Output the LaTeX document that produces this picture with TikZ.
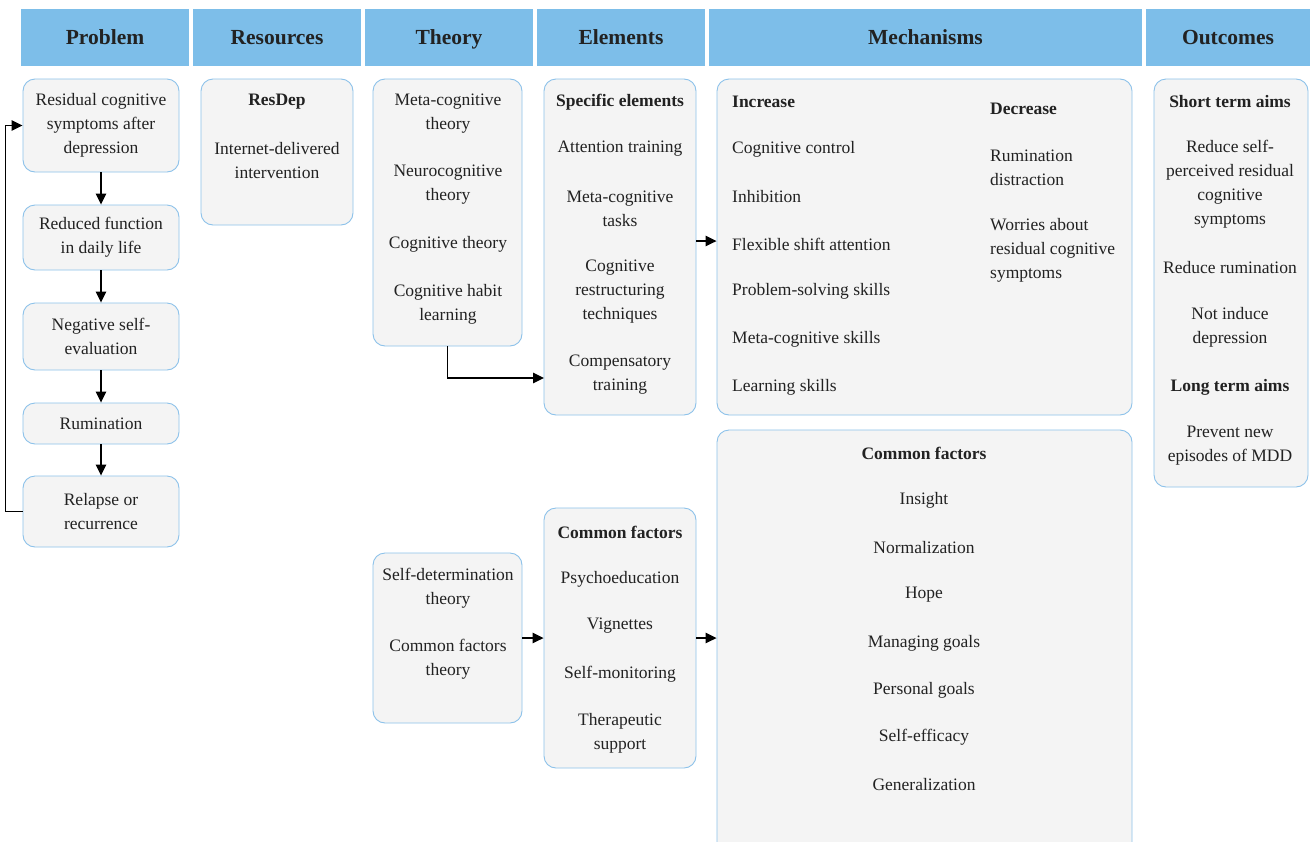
\documentclass[tikz,border=0pt]{standalone}
\usepackage{fontspec}
\setmainfont{Liberation Serif}
\usetikzlibrary{arrows.meta}
\definecolor{hdr}{HTML}{7DBEE9}
\definecolor{boxfill}{HTML}{F4F4F4}
\definecolor{boxline}{HTML}{8DC2EA}
\definecolor{ink}{HTML}{222222}

\begin{document}
\begin{tikzpicture}[x=1pt,y=-1pt,
  hdrbox/.style={fill=hdr, draw=none, minimum height=57pt, inner sep=0pt,
    text height=15pt, text depth=1.5pt,
    font=\fontsize{21.5}{26}\selectfont\bfseries, text=ink},
  panel/.style={draw=boxline, line width=0.9pt, fill=boxfill, rounded corners=12pt,
    inner sep=0pt, font=\fontsize{17.5}{24}\selectfont, text=ink, align=center},
  txt/.style={font=\fontsize{17.5}{24}\selectfont, text=ink, align=center, inner sep=0pt, yshift=-2pt},
  ttl/.style={txt, font=\fontsize{17.5}{24}\selectfont\bfseries},
  ltxt/.style={txt, anchor=west, align=left},
  lttl/.style={ttl, anchor=west, align=left},
  link/.style={-{Triangle[length=11pt,width=10.5pt]}, line width=1.4pt, black}]

\useasboundingbox (0,0) rectangle (1312,841);
\clip (0,0) rectangle (1312,841);
\fill[white] (0,0) rectangle (1312,841);

% column headers
\node[hdrbox, minimum width=168pt] (hProblem)   at (105,37.5)   {Problem};
\node[hdrbox, minimum width=168pt] (hResources) at (277,37.5)   {Resources};
\node[hdrbox, minimum width=168pt] (hTheory)    at (449,37.5)   {Theory};
\node[hdrbox, minimum width=168pt] (hElements)  at (621,37.5)   {Elements};
\node[hdrbox, minimum width=433pt] (hMech)      at (925.5,37.5) {Mechanisms};
\node[hdrbox, minimum width=164pt] (hOutcomes)  at (1228,37.5)  {Outcomes};

% problem chain
\node[panel, minimum width=156pt, minimum height=93pt] (p1) at (101,125.5) {Residual cognitive\\symptoms after\\depression};
\node[panel, minimum width=156pt, minimum height=65pt] (p2) at (101,237.5) {Reduced function\\in daily life};
\node[panel, minimum width=156pt, minimum height=67pt] (p3) at (101,336.5) {Negative self-\\evaluation};
\node[panel, minimum width=156pt, minimum height=41pt] (p4) at (101,423.5) {Rumination};
\node[panel, minimum width=156pt, minimum height=71pt] (p5) at (101,511.5) {Relapse or\\recurrence};

\draw[link] (p1) -- (p2);
\draw[link] (p2) -- (p3);
\draw[link] (p3) -- (p4);
\draw[link] (p4) -- (p5);
\draw[link] (p5.west) -- ++(-17,0) |- (p1.west);

% resources
\node[panel, minimum width=152pt, minimum height=146pt] (res) at (277,152) {};
\node[ttl] (resT) at (277,100) {ResDep};
\node[txt] (resA) at (277,159) {Internet-delivered\\intervention};

% theory
\node[panel, minimum width=149pt, minimum height=267pt] (thTop) at (447.5,212.5) {};
\node[txt] (th1) at (448,112) {Meta-cognitive\\theory};
\node[txt] (th2) at (448,183) {Neurocognitive\\theory};
\node[txt] (th3) at (448,242) {Cognitive theory};
\node[txt] (th4) at (448,302) {Cognitive habit\\learning};

\node[panel, minimum width=149pt, minimum height=170pt] (thBot) at (447.5,638) {};
\node[txt] (th5) at (448,586) {Self-determination\\theory};
\node[txt] (th6) at (448,657.5) {Common factors\\theory};

% elements
\node[panel, minimum width=152pt, minimum height=336pt] (elTop) at (620,247) {};
\node[ttl] (elT) at (620,100) {Specific elements};
\node[txt] (el1) at (620,147) {Attention training};
\node[txt] (el2) at (620,206.5) {Meta-cognitive\\tasks};
\node[txt] (el3) at (620,290) {Cognitive\\restructuring\\techniques};
\node[txt] (el4) at (620,372.5) {Compensatory\\training};

\node[panel, minimum width=152pt, minimum height=260pt] (elBot) at (620,638) {};
\node[ttl] (elT2) at (620,530) {Common factors};
\node[txt] (el5) at (620,577) {Psychoeducation};
\node[txt] (el6) at (620,624) {Vignettes};
\node[txt] (el7) at (620,672) {Self-monitoring};
\node[txt] (el8) at (620,731) {Therapeutic\\support};

% mechanisms
\node[panel, minimum width=415pt, minimum height=336pt] (mTop) at (924.5,247) {};
\node[lttl] (mInc) at (732,100) {Increase};
\node[ltxt] (m1) at (732,147) {Cognitive control};
\node[ltxt] (m2) at (732,195) {Inhibition};
\node[ltxt] (m3) at (732,242) {Flexible shift attention};
\node[ltxt] (m4) at (732,289) {Problem-solving skills};
\node[ltxt] (m5) at (732,337) {Meta-cognitive skills};
\node[ltxt] (m6) at (732,385) {Learning skills};
\node[lttl] (mDec) at (990,107) {Decrease};
\node[ltxt] (m7) at (990,165.5) {Rumination\\distraction};
\node[ltxt] (m8) at (990,248) {Worries about\\residual cognitive\\symptoms};

\node[panel, minimum width=415pt, minimum height=430pt] (mBot) at (924.5,645) {};
\node[ttl] (mCF) at (924,451) {Common factors};
\node[txt] (c1) at (924,498) {Insight};
\node[txt] (c2) at (924,546) {Normalization};
\node[txt] (c3) at (924,593) {Hope};
\node[txt] (c4) at (924,641) {Managing goals};
\node[txt] (c5) at (924,688) {Personal goals};
\node[txt] (c6) at (924,735) {Self-efficacy};
\node[txt] (c7) at (924,783) {Generalization};

% outcomes
\node[panel, minimum width=154pt, minimum height=408pt] (out) at (1231,283) {};
\node[ttl] (oS) at (1230,100) {Short term aims};
\node[txt] (o1) at (1230,182.5) {Reduce self-\\perceived residual\\cognitive\\symptoms};
\node[txt] (o2) at (1230,266) {Reduce rumination};
\node[txt] (o3) at (1230,325) {Not induce\\depression};
\node[ttl] (oL) at (1230,385) {Long term aims};
\node[txt] (o4) at (1230,444) {Prevent new\\episodes of MDD};

% connectors between columns
\coordinate (elIn) at (544,378);
\draw[link] (thTop.south) |- (elIn);
\draw[link] ([yshift=6pt]elTop.east) -- ([yshift=6pt]elTop.east -| mTop.west);
\draw[link] (thBot.east) -- (elBot.west);
\draw[link] (elBot.east) -- (elBot.east -| mBot.west);
\end{tikzpicture}
\end{document}
